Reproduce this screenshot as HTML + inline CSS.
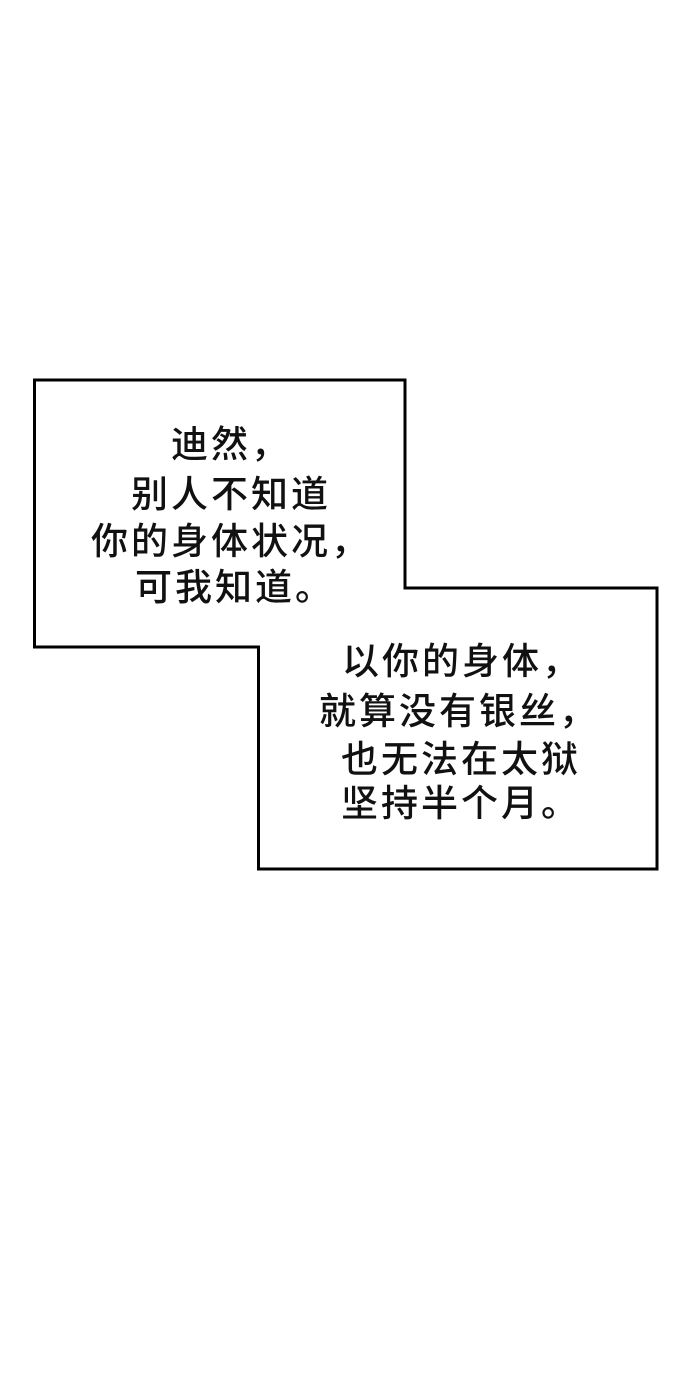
<!DOCTYPE html>
<html><head><meta charset="utf-8"><style>
body{margin:0;width:690px;height:1400px;background:#fff;position:relative;overflow:hidden}
.t{position:absolute;font-family:"Liberation Sans","Noto Sans CJK SC",sans-serif;font-weight:500;font-size:37px;line-height:48px;height:48px;color:#111;white-space:pre;letter-spacing:3px}
</style></head><body>
<svg width="690" height="1400" style="position:absolute;left:0;top:0">
<polygon points="34.5,380 405,380 405,588 657,588 657,869 258.5,869 258.5,647 34.5,647" fill="#fff" stroke="#000" stroke-width="3"/>
</svg>
<div class="t" style="left:171px;top:421px">迪然，</div>
<div class="t" style="left:131px;top:471px">别人不知道</div>
<div class="t" style="left:91px;top:518px">你的身体状况，</div>
<div class="t" style="left:135px;top:564px">可我知道。</div>
<div class="t" style="left:342px;top:638px">以你的身体，</div>
<div class="t" style="left:319px;top:688px">就算没有银丝，</div>
<div class="t" style="left:341px;top:736px">也无法在太狱</div>
<div class="t" style="left:341px;top:780px">坚持半个月。</div>
</body></html>
